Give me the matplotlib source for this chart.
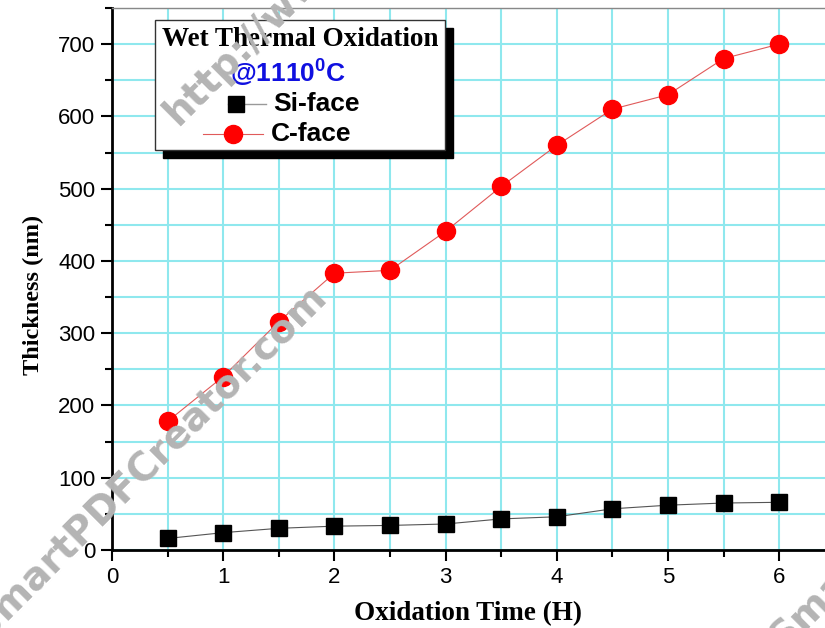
import numpy as np
from matplotlib import pyplot as plt
from matplotlib.patches import Rectangle
from matplotlib.lines import Line2D

time_h = [0.5, 1.0, 1.5, 2.0, 2.5, 3.0, 3.5, 4.0, 4.5, 5.0, 5.5, 6.0]
si_face = [16, 24, 30, 33, 34, 36, 43, 46, 57, 62, 65, 66]
c_face = [178, 240, 316, 383, 387, 441, 503, 560, 610, 630, 680, 700]

x_ticks = [0, 1, 2, 3, 4, 5, 6]
y_ticks = [0, 100, 200, 300, 400, 500, 600, 700]

W, H = 825, 628
fig = plt.figure(figsize=(W / 100, H / 100), dpi=100)
ax = fig.add_axes([112 / W, 1 - 550 / H, (W - 112) / W, (550 - 8) / H])

ax.plot(time_h, c_face, color='#e05a5a', lw=0.8, marker='o', ms=13,
        mfc='red', mec='red', zorder=3)
ax.plot(time_h, si_face, color='#555555', lw=0.8, marker='s', ms=11.5,
        mfc='black', mec='black', zorder=3)

ax.set_xlim(0, (W - 112) / 111.2)
ax.set_ylim(0, 750)
ax.set_xticks(x_ticks)
ax.set_xticks(np.arange(0.5, 6.5, 1.0), minor=True)
ax.set_yticks(y_ticks)
ax.set_yticks(np.arange(50, 800, 100), minor=True)
ax.set_xticklabels([str(v) for v in x_ticks], fontfamily='Liberation Sans', fontsize=16)
ax.set_yticklabels([str(v) for v in y_ticks], fontfamily='Liberation Sans', fontsize=16)
ax.tick_params(which='major', direction='out', length=8, width=1.5, pad=4)
ax.tick_params(which='minor', direction='out', length=5, width=1.5)

ax.grid(True, which='both', color='#8fe8ee', lw=1.5)
ax.set_axisbelow(True)

ax.spines['left'].set_linewidth(2)
ax.spines['bottom'].set_linewidth(2)
ax.spines['top'].set_color('#888888')
ax.spines['top'].set_linewidth(1)
ax.spines['right'].set_visible(False)

ax.set_xlabel('Oxidation Time (H)', fontfamily='Liberation Serif', fontweight='bold',
              fontsize=19.5, labelpad=10)
ax.set_ylabel('Thickness (nm)', fontfamily='Liberation Serif', fontweight='bold',
              fontsize=17.5, labelpad=10)
ax.yaxis.label.set_y((550 - 295) / 542)

# legend box drawn by hand (px -> axes fraction)
def ax_xy(px, py):
    return (px - 112) / (W - 112), (550 - py) / (550 - 8)

x0, y0 = ax_xy(163, 158)
x1, y1 = ax_xy(453, 28)
ax.add_patch(Rectangle((x0, y0), x1 - x0, y1 - y0, transform=ax.transAxes,
                       facecolor='black', edgecolor='black', zorder=5))
x0, y0 = ax_xy(155, 150)
x1, y1 = ax_xy(445, 20)
ax.add_patch(Rectangle((x0, y0), x1 - x0, y1 - y0, transform=ax.transAxes,
                       facecolor='white', edgecolor='#333333', lw=1, zorder=6))

ax.text(*ax_xy(300, 39), 'Wet Thermal Oxidation', transform=ax.transAxes,
        ha='center', va='center', fontfamily='Liberation Serif', fontweight='bold',
        fontsize=19.5, zorder=7)
ax.text(*ax_xy(288, 72), r'@1110$^\mathregular{0}$C', transform=ax.transAxes,
        ha='center', va='center', fontfamily='Liberation Sans', fontweight='bold',
        fontsize=19, color='#1010e0', zorder=7)

lx = [ax_xy(228, 0)[0], ax_xy(266, 0)[0]]
ly = ax_xy(0, 104)[1]
ax.add_line(Line2D(lx, [ly, ly], transform=ax.transAxes, color='#999999', lw=1, zorder=7))
ax.add_line(Line2D([ax_xy(236, 0)[0]], [ly], transform=ax.transAxes, marker='s', ms=11,
                   mfc='black', mec='black', ls='none', zorder=8))
ax.text(ax_xy(273, 0)[0], ly, 'Si-face', transform=ax.transAxes, ha='left', va='center',
        fontfamily='Liberation Sans', fontweight='bold', fontsize=19, zorder=7)

lx = [ax_xy(203, 0)[0], ax_xy(263, 0)[0]]
ly = ax_xy(0, 134)[1]
ax.add_line(Line2D(lx, [ly, ly], transform=ax.transAxes, color='#e05a5a', lw=0.8, zorder=7))
ax.add_line(Line2D([ax_xy(233, 0)[0]], [ly], transform=ax.transAxes, marker='o', ms=13,
                   mfc='red', mec='red', ls='none', zorder=8))
ax.text(ax_xy(271, 0)[0], ly, 'C-face', transform=ax.transAxes, ha='left', va='center',
        fontfamily='Liberation Sans', fontweight='bold', fontsize=19, zorder=7)

# watermark
wm = 'http://www.SmartPDFCreator.com'
wm_style = dict(fontfamily='DejaVu Sans', fontweight='bold', fontsize=28, color='#b4b4b4',
                rotation=45, rotation_mode='anchor', va='baseline', zorder=20)
fig.text(178 / W, 1 - 126 / H, wm, ha='left', **wm_style)
fig.text(329 / W, 1 - 298 / H, wm, ha='right', **wm_style)
fig.text(784 / W, 1 - 652 / H, 'SmartPDFCreator.com', ha='left', **wm_style)

fig.savefig('out.png', dpi=100)
